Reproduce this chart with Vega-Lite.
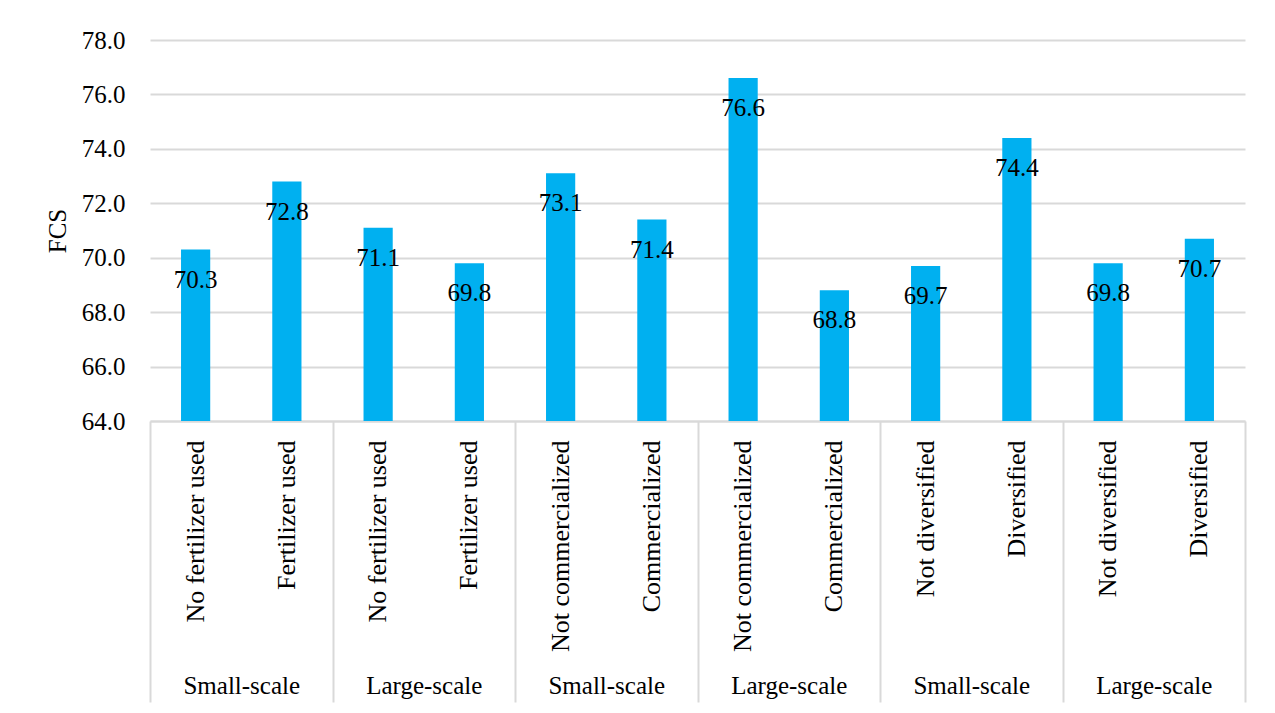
{
  "$schema": "https://vega.github.io/schema/vega-lite/v6.json",
  "autosize": {"type": "none"},
  "width": 1095,
  "height": 381,
  "padding": {"left": 150, "top": 40, "right": 30, "bottom": 292},
  "background": "white",
  "config": {
    "view": {"stroke": null},
    "font": "Liberation Serif",
    "axis": {"labelFont": "Liberation Serif", "titleFont": "Liberation Serif", "labelColor": "#000000", "titleColor": "#000000"}
  },
  "datasets": {
    "bars": [
      {"id": "c01", "label": "No fertilizer used", "group": "g1", "fcs": 70.3},
      {"id": "c02", "label": "Fertilizer used", "group": "g1", "fcs": 72.8},
      {"id": "c03", "label": "No fertilizer used", "group": "g2", "fcs": 71.1},
      {"id": "c04", "label": "Fertilizer used", "group": "g2", "fcs": 69.8},
      {"id": "c05", "label": "Not commercialized", "group": "g3", "fcs": 73.1},
      {"id": "c06", "label": "Commercialized", "group": "g3", "fcs": 71.4},
      {"id": "c07", "label": "Not commercialized", "group": "g4", "fcs": 76.6},
      {"id": "c08", "label": "Commercialized", "group": "g4", "fcs": 68.8},
      {"id": "c09", "label": "Not diversified", "group": "g5", "fcs": 69.7},
      {"id": "c10", "label": "Diversified", "group": "g5", "fcs": 74.4},
      {"id": "c11", "label": "Not diversified", "group": "g6", "fcs": 69.8},
      {"id": "c12", "label": "Diversified", "group": "g6", "fcs": 70.7}
    ],
    "groups": [
      {"group": "g1", "name": "Small-scale"},
      {"group": "g2", "name": "Large-scale"},
      {"group": "g3", "name": "Small-scale"},
      {"group": "g4", "name": "Large-scale"},
      {"group": "g5", "name": "Small-scale"},
      {"group": "g6", "name": "Large-scale"}
    ]
  },
  "resolve": {"scale": {"x": "independent"}, "axis": {"x": "independent"}},
  "layer": [
    {
      "data": {"name": "bars"},
      "layer": [
        {
          "mark": {"type": "bar", "color": "#00B0F0"},
          "encoding": {
            "x": {
              "field": "id",
              "type": "nominal",
              "sort": null,
              "scale": {"paddingInner": 0.68, "paddingOuter": 0.34},
              "axis": {
                "orient": "bottom",
                "title": null,
                "labelExpr": "{'c01':'No fertilizer used','c02':'Fertilizer used','c03':'No fertilizer used','c04':'Fertilizer used','c05':'Not commercialized','c06':'Commercialized','c07':'Not commercialized','c08':'Commercialized','c09':'Not diversified','c10':'Diversified','c11':'Not diversified','c12':'Diversified'}[datum.value]",
                "labelAngle": -90,
                "labelAlign": "right",
                "labelBaseline": "middle",
                "labelFontSize": 26,
                "labelPadding": 19,
                "labelLimit": 400,
                "labelOverlap": false,
                "ticks": false,
                "domain": true,
                "domainColor": "#D9D9D9",
                "domainWidth": 2
              }
            },
            "y": {
              "field": "fcs",
              "type": "quantitative",
              "scale": {"domain": [64, 78], "nice": false, "zero": false},
              "axis": {
                "title": "FCS",
                "titleFontSize": 25,
                "titleFontWeight": "normal",
                "titlePadding": 11,
                "values": [64, 66, 68, 70, 72, 74, 76, 78],
                "format": ".1f",
                "labelFontSize": 25,
                "labelPadding": 25,
                "domain": false,
                "ticks": false,
                "grid": true,
                "gridColor": "#D9D9D9",
                "gridWidth": 2
              }
            },
            "y2": {"datum": 64}
          }
        },
        {
          "mark": {"type": "text", "baseline": "middle", "align": "center", "dy": 30, "fontSize": 25, "color": "#000000"},
          "encoding": {
            "x": {"field": "id", "type": "nominal", "sort": null},
            "y": {"field": "fcs", "type": "quantitative"},
            "text": {"field": "fcs", "type": "quantitative", "format": ".1f"}
          }
        }
      ]
    },
    {
      "data": {"name": "groups"},
      "mark": {"type": "rule", "strokeOpacity": 0},
      "encoding": {
        "x": {
          "field": "group",
          "type": "nominal",
          "sort": null,
          "scale": {"paddingInner": 0, "paddingOuter": 0},
          "axis": {
            "orient": "bottom",
            "title": null,
            "labelExpr": "{'g1':'Small-scale','g2':'Large-scale','g3':'Small-scale','g4':'Large-scale','g5':'Small-scale','g6':'Large-scale'}[datum.value]",
            "labelAngle": 0,
            "labelFontSize": 25,
            "labelPadding": -29,
            "domain": false,
            "ticks": true,
            "tickBand": "extent",
            "tickSize": 281,
            "tickColor": "#D9D9D9",
            "tickWidth": 2
          }
        }
      }
    }
  ]
}
